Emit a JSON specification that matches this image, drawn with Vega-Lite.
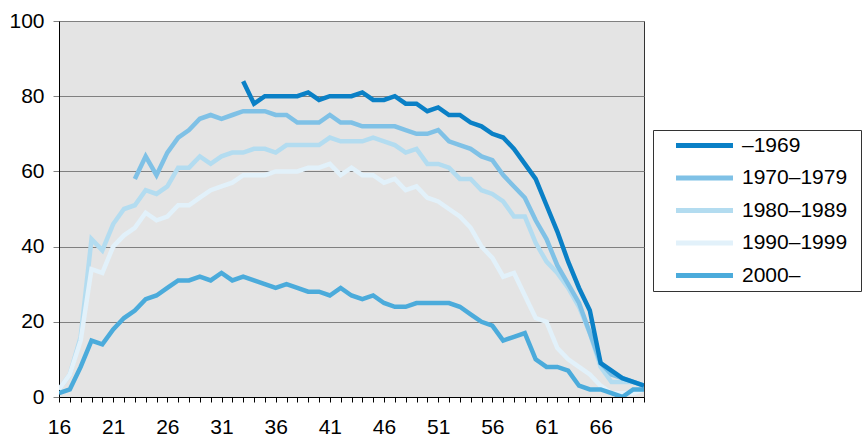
{
  "$schema": "https://vega.github.io/schema/vega-lite/v6.json",
  "width": 585,
  "height": 376,
  "autosize": {"type": "none"},
  "padding": {"left": 59, "top": 21, "right": 219, "bottom": 40},
  "background": "white",
  "config": {
    "font": "Liberation Sans",
    "view": {"fill": "#E4E4E4", "stroke": "#333333", "strokeWidth": 1}
  },
  "data": {"values": [
    {"age":16,"1980–1989":2,"1990–1999":2,"2000–":1},
    {"age":17,"1980–1989":6,"1990–1999":6,"2000–":2},
    {"age":18,"1980–1989":16,"1990–1999":15,"2000–":8},
    {"age":19,"1980–1989":42,"1990–1999":34,"2000–":15},
    {"age":20,"1980–1989":39,"1990–1999":33,"2000–":14},
    {"age":21,"1980–1989":46,"1990–1999":40,"2000–":18},
    {"age":22,"1980–1989":50,"1990–1999":43,"2000–":21},
    {"age":23,"1970–1979":58,"1980–1989":51,"1990–1999":45,"2000–":23},
    {"age":24,"1970–1979":64,"1980–1989":55,"1990–1999":49,"2000–":26},
    {"age":25,"1970–1979":59,"1980–1989":54,"1990–1999":47,"2000–":27},
    {"age":26,"1970–1979":65,"1980–1989":56,"1990–1999":48,"2000–":29},
    {"age":27,"1970–1979":69,"1980–1989":61,"1990–1999":51,"2000–":31},
    {"age":28,"1970–1979":71,"1980–1989":61,"1990–1999":51,"2000–":31},
    {"age":29,"1970–1979":74,"1980–1989":64,"1990–1999":53,"2000–":32},
    {"age":30,"1970–1979":75,"1980–1989":62,"1990–1999":55,"2000–":31},
    {"age":31,"1970–1979":74,"1980–1989":64,"1990–1999":56,"2000–":33},
    {"age":32,"1970–1979":75,"1980–1989":65,"1990–1999":57,"2000–":31},
    {"age":33,"–1969":84,"1970–1979":76,"1980–1989":65,"1990–1999":59,"2000–":32},
    {"age":34,"–1969":78,"1970–1979":76,"1980–1989":66,"1990–1999":59,"2000–":31},
    {"age":35,"–1969":80,"1970–1979":76,"1980–1989":66,"1990–1999":59,"2000–":30},
    {"age":36,"–1969":80,"1970–1979":75,"1980–1989":65,"1990–1999":60,"2000–":29},
    {"age":37,"–1969":80,"1970–1979":75,"1980–1989":67,"1990–1999":60,"2000–":30},
    {"age":38,"–1969":80,"1970–1979":73,"1980–1989":67,"1990–1999":60,"2000–":29},
    {"age":39,"–1969":81,"1970–1979":73,"1980–1989":67,"1990–1999":61,"2000–":28},
    {"age":40,"–1969":79,"1970–1979":73,"1980–1989":67,"1990–1999":61,"2000–":28},
    {"age":41,"–1969":80,"1970–1979":75,"1980–1989":69,"1990–1999":62,"2000–":27},
    {"age":42,"–1969":80,"1970–1979":73,"1980–1989":68,"1990–1999":59,"2000–":29},
    {"age":43,"–1969":80,"1970–1979":73,"1980–1989":68,"1990–1999":61,"2000–":27},
    {"age":44,"–1969":81,"1970–1979":72,"1980–1989":68,"1990–1999":59,"2000–":26},
    {"age":45,"–1969":79,"1970–1979":72,"1980–1989":69,"1990–1999":59,"2000–":27},
    {"age":46,"–1969":79,"1970–1979":72,"1980–1989":68,"1990–1999":57,"2000–":25},
    {"age":47,"–1969":80,"1970–1979":72,"1980–1989":67,"1990–1999":58,"2000–":24},
    {"age":48,"–1969":78,"1970–1979":71,"1980–1989":65,"1990–1999":55,"2000–":24},
    {"age":49,"–1969":78,"1970–1979":70,"1980–1989":66,"1990–1999":56,"2000–":25},
    {"age":50,"–1969":76,"1970–1979":70,"1980–1989":62,"1990–1999":53,"2000–":25},
    {"age":51,"–1969":77,"1970–1979":71,"1980–1989":62,"1990–1999":52,"2000–":25},
    {"age":52,"–1969":75,"1970–1979":68,"1980–1989":61,"1990–1999":50,"2000–":25},
    {"age":53,"–1969":75,"1970–1979":67,"1980–1989":58,"1990–1999":48,"2000–":24},
    {"age":54,"–1969":73,"1970–1979":66,"1980–1989":58,"1990–1999":45,"2000–":22},
    {"age":55,"–1969":72,"1970–1979":64,"1980–1989":55,"1990–1999":40,"2000–":20},
    {"age":56,"–1969":70,"1970–1979":63,"1980–1989":54,"1990–1999":37,"2000–":19},
    {"age":57,"–1969":69,"1970–1979":59,"1980–1989":52,"1990–1999":32,"2000–":15},
    {"age":58,"–1969":66,"1970–1979":56,"1980–1989":48,"1990–1999":33,"2000–":16},
    {"age":59,"–1969":62,"1970–1979":53,"1980–1989":48,"1990–1999":27,"2000–":17},
    {"age":60,"–1969":58,"1970–1979":47,"1980–1989":41,"1990–1999":21,"2000–":10},
    {"age":61,"–1969":51,"1970–1979":42,"1980–1989":36,"1990–1999":20,"2000–":8},
    {"age":62,"–1969":44,"1970–1979":35,"1980–1989":33,"1990–1999":13,"2000–":8},
    {"age":63,"–1969":36,"1970–1979":30,"1980–1989":29,"1990–1999":10,"2000–":7},
    {"age":64,"–1969":29,"1970–1979":25,"1980–1989":24,"1990–1999":8,"2000–":3},
    {"age":65,"–1969":23,"1970–1979":17,"1980–1989":17,"1990–1999":6,"2000–":2},
    {"age":66,"–1969":9,"1970–1979":9,"1980–1989":8,"1990–1999":3,"2000–":2},
    {"age":67,"–1969":7,"1970–1979":6,"1980–1989":4,"1990–1999":1,"2000–":1},
    {"age":68,"–1969":5,"1970–1979":5,"1980–1989":4,"1990–1999":1,"2000–":0},
    {"age":69,"–1969":4,"1970–1979":4,"1980–1989":4,"1990–1999":1,"2000–":2},
    {"age":70,"–1969":3,"1970–1979":3,"1980–1989":3,"1990–1999":2,"2000–":2}
  ]},
  "transform": [
    {"fold": ["–1969", "1970–1979", "1980–1989", "1990–1999", "2000–"], "as": ["s", "v"]},
    {"filter": "isValid(datum.v)"}
  ],
  "mark": {"type": "line", "strokeWidth": 4.5, "clip": true},
  "encoding": {
    "x": {
      "field": "age", "type": "quantitative",
      "scale": {"domain": [16, 70], "nice": false, "zero": false},
      "axis": {
        "title": null,
        "values": [16,17,18,19,20,21,22,23,24,25,26,27,28,29,30,31,32,33,34,35,36,37,38,39,40,41,42,43,44,45,46,47,48,49,50,51,52,53,54,55,56,57,58,59,60,61,62,63,64,65,66,67,68,69,70],
        "labelExpr": "(datum.value - 16) % 5 == 0 ? datum.label : ''",
        "labelOverlap": false, "labelFlush": false, "grid": false,
        "domainColor": "#000000", "tickColor": "#000000", "tickSize": 5,
        "labelFontSize": 21, "labelColor": "#000000", "labelPadding": 14
      }
    },
    "y": {
      "field": "v", "type": "quantitative",
      "scale": {"domain": [0, 100], "nice": false},
      "axis": {
        "title": null, "values": [0, 20, 40, 60, 80, 100],
        "gridColor": "#808080", "gridOpacity": 1,
        "domainColor": "#000000", "tickColor": "#808080", "tickSize": 6,
        "labelFontSize": 21, "labelColor": "#000000", "labelPadding": 9
      }
    },
    "color": {
      "field": "s", "type": "nominal",
      "scale": {
        "domain": ["–1969", "1970–1979", "1980–1989", "1990–1999", "2000–"],
        "range": ["#0A80C6", "#7FC1E6", "#B3DCF0", "#E2F1FA", "#4BABDB"]
      },
      "legend": {
        "title": " ", "titleOrient": "right", "titlePadding": 9, "titleFontSize": 21,
        "orient": "none", "legendX": 594, "legendY": 109,
        "symbolType": "M-4,0H4", "symbolSize": 203, "symbolStrokeWidth": 5,
        "symbolOffset": 36,
        "labelFontSize": 21, "labelColor": "#000000", "labelOffset": 27,
        "rowPadding": 10.5, "padding": 5,
        "strokeColor": "#333333", "fillColor": "#FFFFFF"
      }
    }
  }
}
